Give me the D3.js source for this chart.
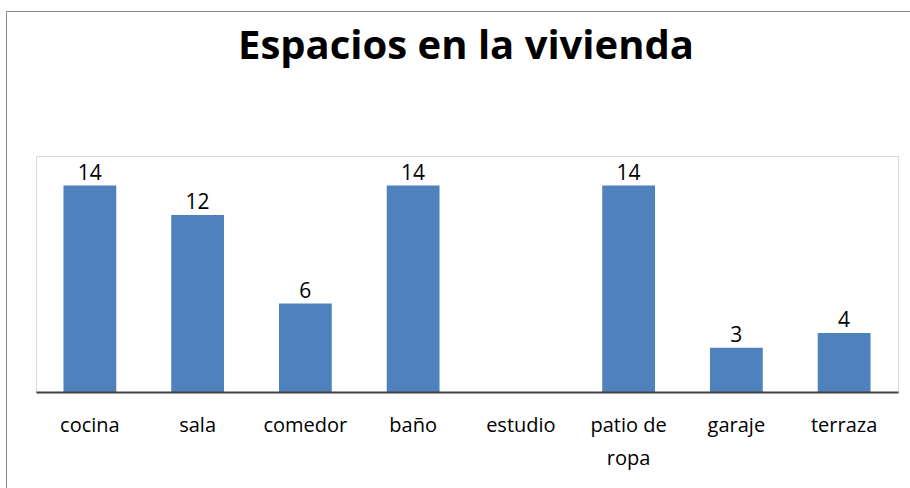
<!DOCTYPE html>
<html>
<head>
<meta charset="utf-8">
<script src="https://cdn.jsdelivr.net/npm/d3@7"></script>
<style>
  body { margin: 0; background: #fff; }
  svg { display: block; font-family: 'Open Sans', 'Noto Sans', sans-serif; }
</style>
</head>
<body>
<script>
// Chart data
const categories = ['cocina', 'sala', 'comedor', 'baño', 'estudio', 'patio de ropa', 'garaje', 'terraza'];
const values = [14, 12, 6, 14, null, 14, 3, 4];
const titleText = 'Espacios en la vivienda';

// SVG dimensions
const fullWidth = 910;
const fullHeight = 488;
const margin = { top: 156, right: 12, bottom: 96, left: 36 };
const width = fullWidth - margin.left - margin.right;
const height = fullHeight - margin.top - margin.bottom;

const svg = d3.select('body')
  .append('svg')
  .attr('width', fullWidth)
  .attr('height', fullHeight);

// Outer chart frame (cut by the window)
svg.append('rect')
  .attr('x', 6.5)
  .attr('y', 11.5)
  .attr('width', 1200)
  .attr('height', 1200)
  .attr('fill', 'none')
  .attr('stroke', '#8c8c8c');

// Title
svg.append('text')
  .attr('x', 466)
  .attr('y', 59)
  .attr('text-anchor', 'middle')
  .style('font-size', '40px')
  .style('font-weight', 'bold')
  .text(titleText);

const x = d3.scaleBand()
  .domain(categories)
  .range([0, width])
  .paddingInner(0.51)
  .paddingOuter(0.255);

const y = d3.scaleLinear()
  .domain([0, 16])
  .range([height, 0]);

const plot = svg.append('g')
  .attr('transform', `translate(${margin.left}, ${margin.top})`);

// Plot area border
plot.append('rect')
  .attr('x', 0.5)
  .attr('y', 0.5)
  .attr('width', width)
  .attr('height', height)
  .attr('fill', 'none')
  .attr('stroke', '#d9d9d9');

const data = categories.map((c, i) => ({ cat: c, value: values[i] }))
  .filter(d => d.value != null);

plot.selectAll('.bar')
  .data(data)
  .enter()
  .append('rect')
  .attr('class', 'bar')
  .attr('x', d => x(d.cat))
  .attr('y', d => y(d.value))
  .attr('width', x.bandwidth())
  .attr('height', d => height - y(d.value))
  .attr('fill', '#4f81bd');

plot.selectAll('.val')
  .data(data)
  .enter()
  .append('text')
  .attr('class', 'val')
  .attr('x', d => x(d.cat) + x.bandwidth() / 2)
  .attr('y', d => y(d.value) - 6)
  .attr('text-anchor', 'middle')
  .style('font-size', '21px')
  .attr('fill', '#000')
  .text(d => d.value);

// Category axis
const xAxis = plot.append('g')
  .attr('transform', `translate(0, ${height})`)
  .call(d3.axisBottom(x).tickSize(0).tickPadding(0))
  .attr('font-family', null)
  .attr('font-size', null);

xAxis.select('.domain')
  .attr('stroke', '#404040')
  .attr('stroke-width', 2);

xAxis.selectAll('.tick text').remove();

xAxis.selectAll('.tick')
  .append('text')
  .attr('text-anchor', 'middle')
  .attr('fill', '#000')
  .style('font-size', '20px')
  .selectAll('tspan')
  .data(d => d === 'patio de ropa' ? ['patio de', 'ropa'] : [d])
  .enter()
  .append('tspan')
  .attr('x', 0)
  .attr('y', (d, i) => 40 + i * 33)
  .text(d => d);
</script>
</body>
</html>
